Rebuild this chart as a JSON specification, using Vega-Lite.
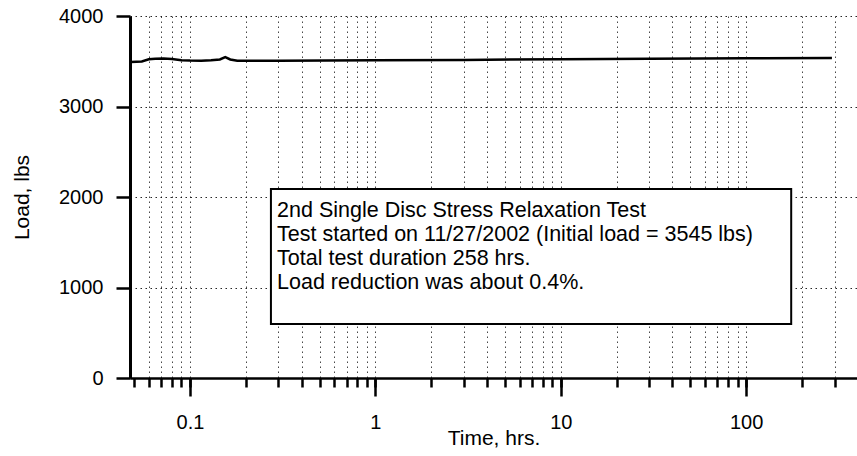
{
  "$schema": "https://vega.github.io/schema/vega-lite/v6.json",
  "width": 727,
  "height": 362,
  "autosize": {"type": "none"},
  "padding": {"left": 130, "top": 16, "right": 0, "bottom": 78},
  "background": "white",
  "config": {
    "view": {"stroke": null},
    "font": "Liberation Sans",
    "axis": {
      "domainColor": "black",
      "tickColor": "black",
      "labelColor": "black",
      "titleColor": "black",
      "labelFont": "Liberation Sans",
      "titleFont": "Liberation Sans",
      "labelFontSize": 20,
      "titleFontSize": 21,
      "titleFontWeight": "normal",
      "gridColor": "black",
      "gridDash": [1.5, 3.5],
      "gridWidth": 1,
      "gridOpacity": 0.85,
      "tickWidth": 2.5,
      "domainWidth": 2.5
    }
  },
  "resolve": {"axis": {"x": "independent"}},
  "layer": [
    {
      "data": {
        "values": [
          {"time": 0.048, "load": 3492},
          {"time": 0.055, "load": 3498},
          {"time": 0.06, "load": 3522},
          {"time": 0.065, "load": 3528},
          {"time": 0.072, "load": 3530},
          {"time": 0.08, "load": 3524},
          {"time": 0.09, "load": 3512},
          {"time": 0.1, "load": 3508},
          {"time": 0.115, "load": 3506},
          {"time": 0.13, "load": 3512},
          {"time": 0.145, "load": 3520},
          {"time": 0.155, "load": 3545},
          {"time": 0.165, "load": 3520},
          {"time": 0.18, "load": 3505},
          {"time": 0.3, "load": 3505},
          {"time": 1, "load": 3510},
          {"time": 3, "load": 3515},
          {"time": 10, "load": 3522},
          {"time": 30, "load": 3528},
          {"time": 100, "load": 3532},
          {"time": 290, "load": 3535}
        ]
      },
      "mark": {"type": "line", "color": "black", "strokeWidth": 2.5, "clip": true},
      "encoding": {
        "x": {
          "field": "time",
          "type": "quantitative",
          "scale": {"type": "log", "domain": [0.0475, 396], "nice": false, "zero": false},
          "axis": {
            "orient": "bottom",
            "title": null,
            "values": [0.05, 0.06, 0.07, 0.08, 0.09, 0.1, 0.2, 0.3, 0.4, 0.5, 0.6, 0.7, 0.8, 0.9, 1, 2, 3, 4, 5, 6, 7, 8, 9, 10, 20, 30, 40, 50, 60, 70, 80, 90, 100, 200, 300],
            "labels": false,
            "tickSize": 9,
            "grid": true,
            "gridOpacity": {"condition": {"test": "datum.value < 0.055", "value": 0}, "value": 0.85}
          }
        },
        "y": {
          "field": "load",
          "type": "quantitative",
          "scale": {"domain": [0, 4000], "nice": false},
          "axis": {
            "title": "Load, lbs",
            "values": [0, 1000, 2000, 3000, 4000],
            "format": "d",
            "tickSize": 14,
            "labelPadding": 13,
            "grid": true,
            "domainWidth": 3,
            "titlePadding": 26
          }
        }
      }
    },
    {
      "data": {"values": [{}]},
      "mark": {"type": "rect", "fill": "white", "stroke": "black", "strokeWidth": 2},
      "encoding": {
        "x": {"datum": 0.2734, "type": "quantitative", "axis": null},
        "x2": {"datum": 174.9},
        "y": {"datum": 2088, "type": "quantitative"},
        "y2": {"datum": 597}
      }
    },
    {
      "data": {"values": [{}]},
      "mark": {"type": "text", "align": "left", "baseline": "alphabetic", "font": "Liberation Sans", "fontSize": 21.5, "lineHeight": 24, "color": "black"},
      "encoding": {
        "x": {
          "datum": 0.295,
          "type": "quantitative",
          "axis": {
            "orient": "bottom",
            "title": "Time, hrs.",
            "values": [0.1, 1, 10, 100],
            "format": "~g",
            "tickSize": 18,
            "labelPadding": 16,
            "labelOverlap": false,
            "labelFlush": false,
            "grid": false,
            "domain": false,
            "titleBaseline": "alphabetic",
            "titleY": 66
          }
        },
        "y": {"datum": 1779, "type": "quantitative"},
        "text": {"value": ["2nd Single Disc Stress Relaxation Test", "Test started on 11/27/2002 (Initial load = 3545 lbs)", "Total test duration 258 hrs.", "Load reduction was about 0.4%."]}
      }
    }
  ]
}
